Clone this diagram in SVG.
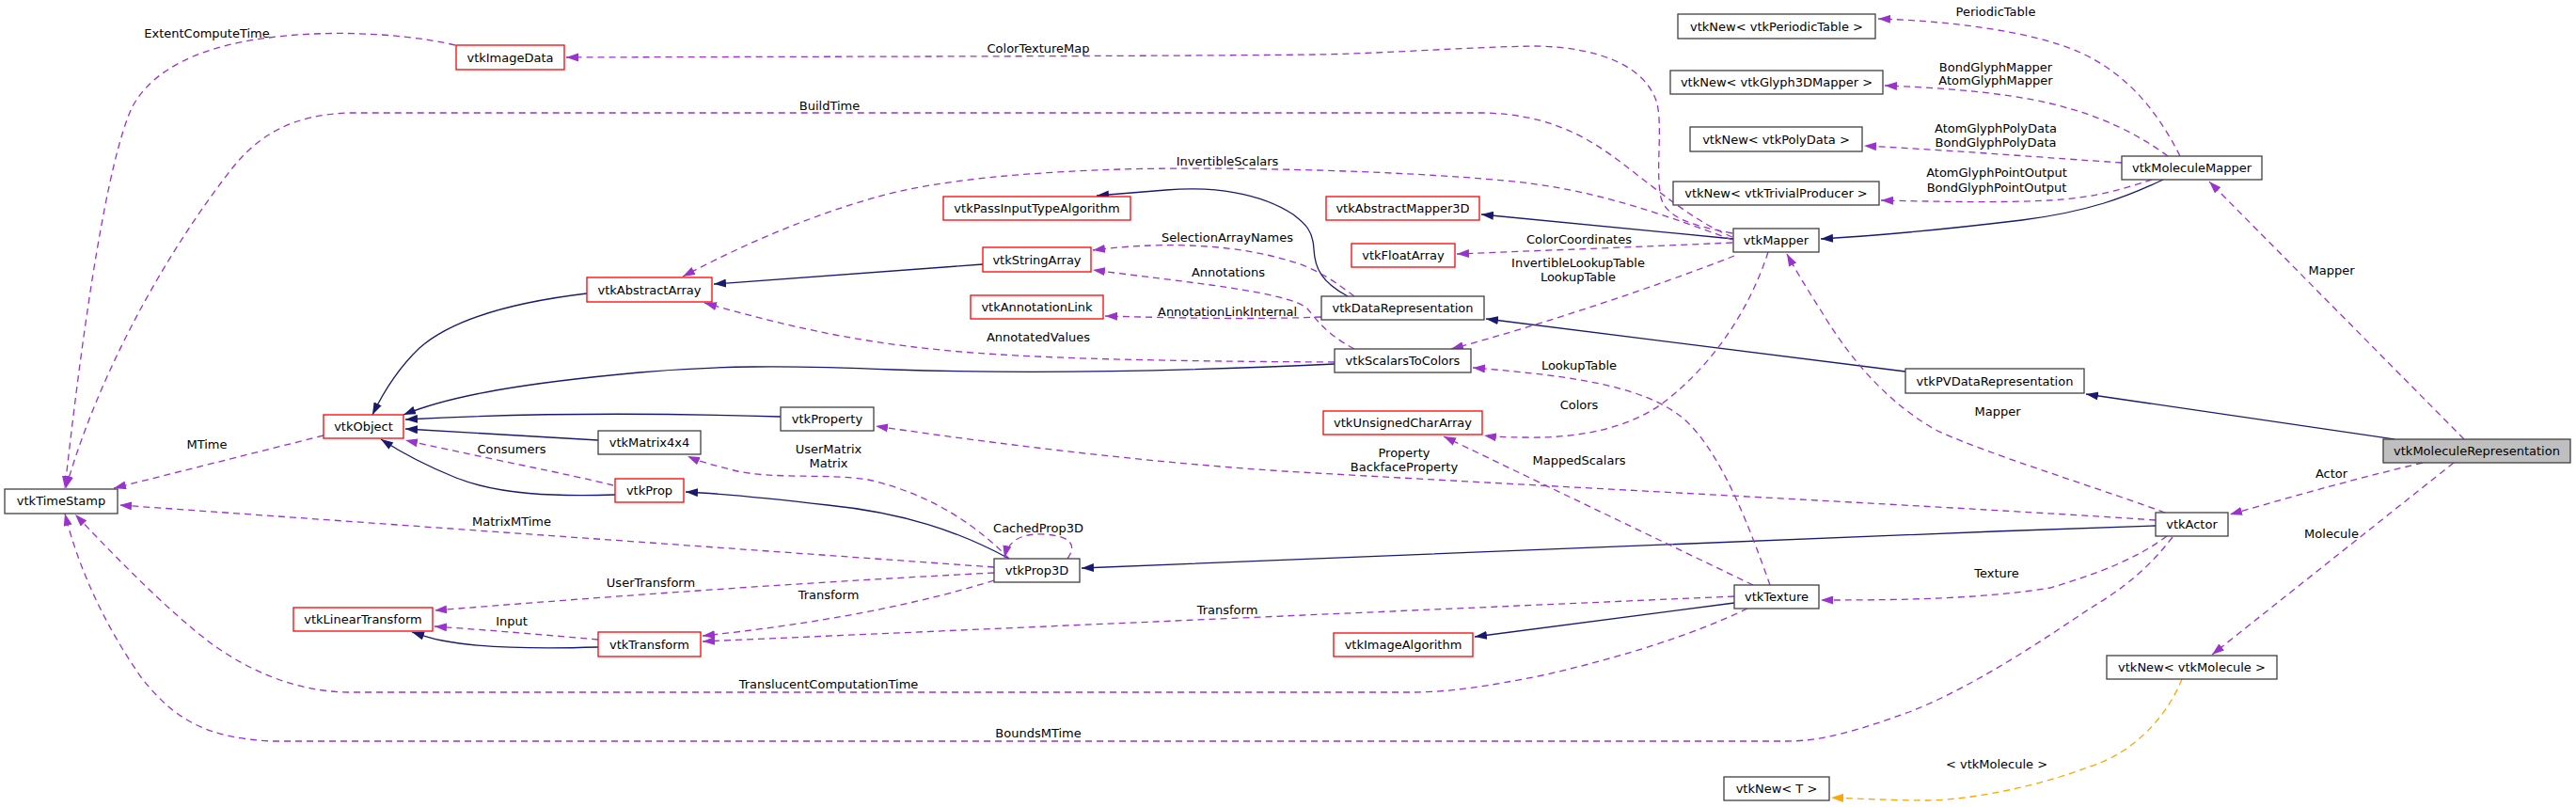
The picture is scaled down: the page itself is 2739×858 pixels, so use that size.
<svg xmlns="http://www.w3.org/2000/svg" width="2739" height="858" viewBox="0 0 2739 858">
<style>
text{font-family:"DejaVu Sans","Liberation Sans",sans-serif;font-size:13px;fill:#000;text-anchor:middle}
.nd rect{fill:#fff;stroke-width:1.3}
.k rect{stroke:#404040}
.r rect{stroke:#ff0000}
.g rect{fill:#bfbfbf;stroke:#404040}
.inh{fill:none;stroke:#191970;stroke-width:1.3;marker-end:url(#an)}
.use{fill:none;stroke:#9a32cd;stroke-width:1.3;stroke-dasharray:7,5;marker-end:url(#ap)}
.tpl{fill:none;stroke:#ffa500;stroke-width:1.3;stroke-dasharray:7,5;marker-end:url(#ao)}
</style>
<defs>
<marker id="an" viewBox="0 0 13 9" refX="13" refY="4.5" markerWidth="13" markerHeight="9" markerUnits="userSpaceOnUse" orient="auto"><path d="M0,0 L13,4.5 L0,9 z" fill="#191970"/></marker>
<marker id="ap" viewBox="0 0 13 9" refX="13" refY="4.5" markerWidth="13" markerHeight="9" markerUnits="userSpaceOnUse" orient="auto"><path d="M0,0 L13,4.5 L0,9 z" fill="#9a32cd"/></marker>
<marker id="ao" viewBox="0 0 13 9" refX="13" refY="4.5" markerWidth="13" markerHeight="9" markerUnits="userSpaceOnUse" orient="auto"><path d="M0,0 L13,4.5 L0,9 z" fill="#ffa500"/></marker>
</defs>
<rect width="2739" height="858" fill="#fff"/>
<g id="connectors">
<path class="inh" d="M2546,467 C2420,448 2300,432 2218,419"/>
<path class="inh" d="M2026,395 L1580,339"/>
<path class="inh" d="M1433,315 C1405,300 1398,285 1397,265 C1396,245 1388,238 1375,228 C1340,205 1290,198 1240,202 L1166,208"/>
<path class="inh" d="M1045,281 L759,302"/>
<path class="inh" d="M624,312 C540,322 480,340 446,370 C425,390 410,412 396,441"/>
<path class="inh" d="M1419,387 C1250,395 1100,398 950,393 C830,388 760,389 680,396 C560,407 480,420 429,441"/>
<path class="inh" d="M830,443 C700,439 560,439 431,446"/>
<path class="inh" d="M636,468 L431,456"/>
<path class="inh" d="M654,526 C590,528 530,526 485,508 C450,494 425,480 405,467"/>
<path class="inh" d="M1073,594 C1020,565 960,545 880,537 C820,530 770,525 729,523"/>
<path class="inh" d="M2292,559 C1900,572 1500,590 1150,604"/>
<path class="inh" d="M1844,641 L1568,677"/>
<path class="inh" d="M1843,254 L1575,228"/>
<path class="inh" d="M2300,191 C2260,210 2220,225 2150,234 C2050,246 1990,251 1936,254"/>
<path class="inh" d="M636,688 C570,690 510,689 470,681 C455,678 447,675 438,672"/>

<path class="use" d="M2620,467 L2349,193"/>
<path class="use" d="M2576,492 C2500,510 2430,530 2371,547"/>
<path class="use" d="M2609,492 L2352,696"/>
<path class="use" d="M2318,166 C2290,110 2255,75 2210,55 C2160,33 2070,22 1997,20"/>
<path class="use" d="M2305,166 C2270,140 2230,122 2180,110 C2130,98 2060,93 2004,91"/>
<path class="use" d="M2256,173 C2180,168 2080,160 1982,155"/>
<path class="use" d="M2288,191 C2260,200 2230,210 2180,213 C2120,216 2050,214 2000,213"/>
<path class="use" d="M1842,248 C1800,240 1772,232 1766,210 C1760,180 1768,140 1762,110 C1750,70 1700,50 1632,49 C1560,50 1470,57 1400,58 C1200,60 900,60 602,61"/>
<path class="use" d="M1842,252 C1800,235 1760,200 1720,170 C1680,140 1640,122 1580,120 L370,120 C310,122 275,145 250,175 C190,250 110,380 70,519"/>
<path class="use" d="M484,48 C420,33 320,30 246,47 C190,60 155,85 140,115 C115,170 90,330 69,519"/>
<path class="use" d="M1842,255 C1760,225 1690,200 1600,192 C1480,181 1300,177 1191,180 C1100,183 1000,190 930,210 C860,230 790,260 726,294"/>
<path class="use" d="M1842,258 C1750,262 1650,266 1549,270"/>
<path class="use" d="M1844,272 C1760,305 1640,345 1543,371"/>
<path class="use" d="M1880,268 C1860,330 1820,390 1766,430 C1730,455 1680,466 1623,465 C1600,465 1585,464 1578,463"/>
<path class="use" d="M2302,545 C2220,515 2120,485 2060,458 C2000,425 1960,370 1936,330 C1920,305 1908,285 1900,270"/>
<path class="use" d="M1882,622 C1860,560 1830,480 1790,445 C1750,412 1680,400 1566,391"/>
<path class="use" d="M1864,622 L1535,464"/>
<path class="use" d="M2292,553 C2100,540 1700,520 1400,503 C1250,495 1080,475 931,453"/>
<path class="use" d="M2304,570 C2270,595 2230,610 2180,625 C2100,638 2000,638 1936,638"/>
<path class="use" d="M2310,571 C2280,610 2250,630 2222,647 C2180,675 2100,730 2030,757 C1980,775 1940,788 1900,788 L290,788 C220,785 185,765 150,720 C115,670 85,610 69,546"/>
<path class="use" d="M1858,647 C1800,675 1720,700 1640,718 C1580,730 1540,736 1500,736 L370,736 C310,735 260,710 223,683 C180,650 130,600 80,547"/>
<path class="use" d="M1844,634 L747,682"/>
<path class="use" d="M1057,617 C1000,635 900,660 747,676"/>
<path class="use" d="M1057,609 C880,618 700,630 462,649"/>
<path class="use" d="M1057,603 L127,537"/>
<path class="use" d="M1135,594 C1145,580 1140,570 1110,568 C1085,567 1072,575 1068,593"/>
<path class="use" d="M1073,594 C1040,560 990,525 923,510 C880,503 820,510 780,500 C760,495 745,491 731,485"/>
<path class="use" d="M652,516 C600,503 520,488 431,468"/>
<path class="use" d="M344,463 L121,519"/>
<path class="use" d="M1440,315 C1420,300 1400,285 1370,277 C1320,262 1250,255 1162,266"/>
<path class="use" d="M1440,371 C1410,355 1400,340 1390,328 C1370,310 1260,300 1162,287"/>
<path class="use" d="M1405,337 C1330,340 1250,338 1175,336"/>
<path class="use" d="M1419,385 C1250,384 1100,382 1000,372 C900,362 830,345 749,322"/>
<path class="use" d="M636,680 C580,675 520,670 462,666"/>
<path class="tpl" d="M2320,722 C2305,760 2270,800 2222,815 C2170,835 2100,850 2050,851 C2010,851 1980,849 1947,848"/>

<text x="220" y="40">ExtentComputeTime</text>
<text x="882" y="117">BuildTime</text>
<text x="1104" y="56">ColorTextureMap</text>
<text x="1305" y="176">InvertibleScalars</text>
<text x="1305" y="257">SelectionArrayNames</text>
<text x="1306" y="294">Annotations</text>
<text x="1305" y="336">AnnotationLinkInternal</text>
<text x="1104" y="363">AnnotatedValues</text>
<text x="220" y="477">MTime</text>
<text x="544" y="482">Consumers</text>
<text x="544" y="559">MatrixMTime</text>
<text x="692" y="624">UserTransform</text>
<text x="544" y="665">Input</text>
<text x="881" y="482">UserMatrix</text>
<text x="881" y="497">Matrix</text>
<text x="1104" y="566">CachedProp3D</text>
<text x="881" y="637">Transform</text>
<text x="1305" y="653">Transform</text>
<text x="881" y="732">TranslucentComputationTime</text>
<text x="1104" y="784">BoundsMTime</text>
<text x="2122" y="17">PeriodicTable</text>
<text x="2122" y="76">BondGlyphMapper</text>
<text x="2122" y="90">AtomGlyphMapper</text>
<text x="2122" y="141">AtomGlyphPolyData</text>
<text x="2122" y="156">BondGlyphPolyData</text>
<text x="2123" y="188">AtomGlyphPointOutput</text>
<text x="2123" y="204">BondGlyphPointOutput</text>
<text x="1679" y="259">ColorCoordinates</text>
<text x="1678" y="284">InvertibleLookupTable</text>
<text x="1678" y="299">LookupTable</text>
<text x="1679" y="393">LookupTable</text>
<text x="1679" y="435">Colors</text>
<text x="1493" y="486">Property</text>
<text x="1493" y="501">BackfaceProperty</text>
<text x="1679" y="494">MappedScalars</text>
<text x="2479" y="292">Mapper</text>
<text x="2124" y="442">Mapper</text>
<text x="2479" y="508">Actor</text>
<text x="2479" y="572">Molecule</text>
<text x="2123" y="614">Texture</text>
<text x="2123" y="817">&lt; vtkMolecule &gt;</text>
</g>

<g id="vtkMoleculeRepresentation" class="nd g"><rect x="2534" y="467" width="199" height="25"/><text x="2633.5" y="484">vtkMoleculeRepresentation</text></g>
<g id="vtkPVDataRepresentation" class="nd k"><rect x="2026" y="392" width="190" height="26"/><text x="2121" y="409.5">vtkPVDataRepresentation</text></g>
<g id="vtkDataRepresentation" class="nd k"><rect x="1405" y="315" width="173" height="25"/><text x="1491.5" y="332">vtkDataRepresentation</text></g>
<g id="vtkPassInputTypeAlgorithm" class="nd r"><rect x="1003" y="209" width="199" height="25"/><text x="1102.5" y="226">vtkPassInputTypeAlgorithm</text></g>
<g id="vtkStringArray" class="nd r"><rect x="1045" y="263" width="115" height="26"/><text x="1102.5" y="280.5">vtkStringArray</text></g>
<g id="vtkAnnotationLink" class="nd r"><rect x="1032" y="314" width="141" height="25"/><text x="1102.5" y="331">vtkAnnotationLink</text></g>
<g id="vtkAbstractArray" class="nd r"><rect x="624" y="295" width="133" height="26"/><text x="690.5" y="312.5">vtkAbstractArray</text></g>
<g id="vtkObject" class="nd r"><rect x="344" y="441" width="85" height="25"/><text x="386.5" y="458">vtkObject</text></g>
<g id="vtkTimeStamp" class="nd k"><rect x="5" y="520" width="120" height="26"/><text x="65" y="537">vtkTimeStamp</text></g>
<g id="vtkImageData" class="nd r"><rect x="485" y="48" width="115" height="26"/><text x="542.5" y="65.5">vtkImageData</text></g>
<g id="vtkMatrix4x4" class="nd k"><rect x="636" y="458" width="109" height="25"/><text x="690.5" y="475">vtkMatrix4x4</text></g>
<g id="vtkProp" class="nd r"><rect x="654" y="509" width="73" height="25"/><text x="690.5" y="526">vtkProp</text></g>
<g id="vtkProperty" class="nd k"><rect x="830" y="433" width="99" height="25"/><text x="879.5" y="450">vtkProperty</text></g>
<g id="vtkProp3D" class="nd k"><rect x="1057" y="594" width="91" height="25"/><text x="1102.5" y="611">vtkProp3D</text></g>
<g id="vtkLinearTransform" class="nd r"><rect x="312" y="646" width="148" height="25"/><text x="386" y="663">vtkLinearTransform</text></g>
<g id="vtkTransform" class="nd r"><rect x="636" y="672" width="109" height="26"/><text x="690.5" y="689.5">vtkTransform</text></g>
<g id="vtkScalarsToColors" class="nd k"><rect x="1419" y="371" width="145" height="25"/><text x="1491.5" y="388">vtkScalarsToColors</text></g>
<g id="vtkAbstractMapper3D" class="nd r"><rect x="1410" y="209" width="163" height="25"/><text x="1491.5" y="226">vtkAbstractMapper3D</text></g>
<g id="vtkFloatArray" class="nd r"><rect x="1437" y="259" width="110" height="25"/><text x="1492" y="276">vtkFloatArray</text></g>
<g id="vtkMapper" class="nd k"><rect x="1843" y="243" width="91" height="25"/><text x="1888.5" y="260">vtkMapper</text></g>
<g id="vtkUnsignedCharArray" class="nd r"><rect x="1407" y="437" width="169" height="25"/><text x="1491.5" y="454">vtkUnsignedCharArray</text></g>
<g id="vtkTexture" class="nd k"><rect x="1844" y="622" width="90" height="25"/><text x="1889" y="639">vtkTexture</text></g>
<g id="vtkImageAlgorithm" class="nd r"><rect x="1418" y="673" width="148" height="25"/><text x="1492" y="690">vtkImageAlgorithm</text></g>
<g id="vtkNew_T" class="nd k"><rect x="1833" y="826" width="112" height="25"/><text x="1889" y="843">vtkNew&lt; T &gt;</text></g>
<g id="vtkNew_vtkPeriodicTable" class="nd k"><rect x="1784" y="15" width="210" height="26"/><text x="1889" y="32.5">vtkNew&lt; vtkPeriodicTable &gt;</text></g>
<g id="vtkNew_vtkGlyph3DMapper" class="nd k"><rect x="1776" y="75" width="226" height="25"/><text x="1889" y="92">vtkNew&lt; vtkGlyph3DMapper &gt;</text></g>
<g id="vtkNew_vtkPolyData" class="nd k"><rect x="1797" y="135" width="183" height="26"/><text x="1888.5" y="152.5">vtkNew&lt; vtkPolyData &gt;</text></g>
<g id="vtkNew_vtkTrivialProducer" class="nd k"><rect x="1779" y="193" width="219" height="25"/><text x="1888.5" y="210">vtkNew&lt; vtkTrivialProducer &gt;</text></g>
<g id="vtkMoleculeMapper" class="nd k"><rect x="2256" y="166" width="149" height="25"/><text x="2330.5" y="183">vtkMoleculeMapper</text></g>
<g id="vtkActor" class="nd k"><rect x="2292" y="545" width="77" height="25"/><text x="2330.5" y="562">vtkActor</text></g>
<g id="vtkNew_vtkMolecule" class="nd k"><rect x="2240" y="697" width="181" height="25"/><text x="2330.5" y="714">vtkNew&lt; vtkMolecule &gt;</text></g>
</svg>
